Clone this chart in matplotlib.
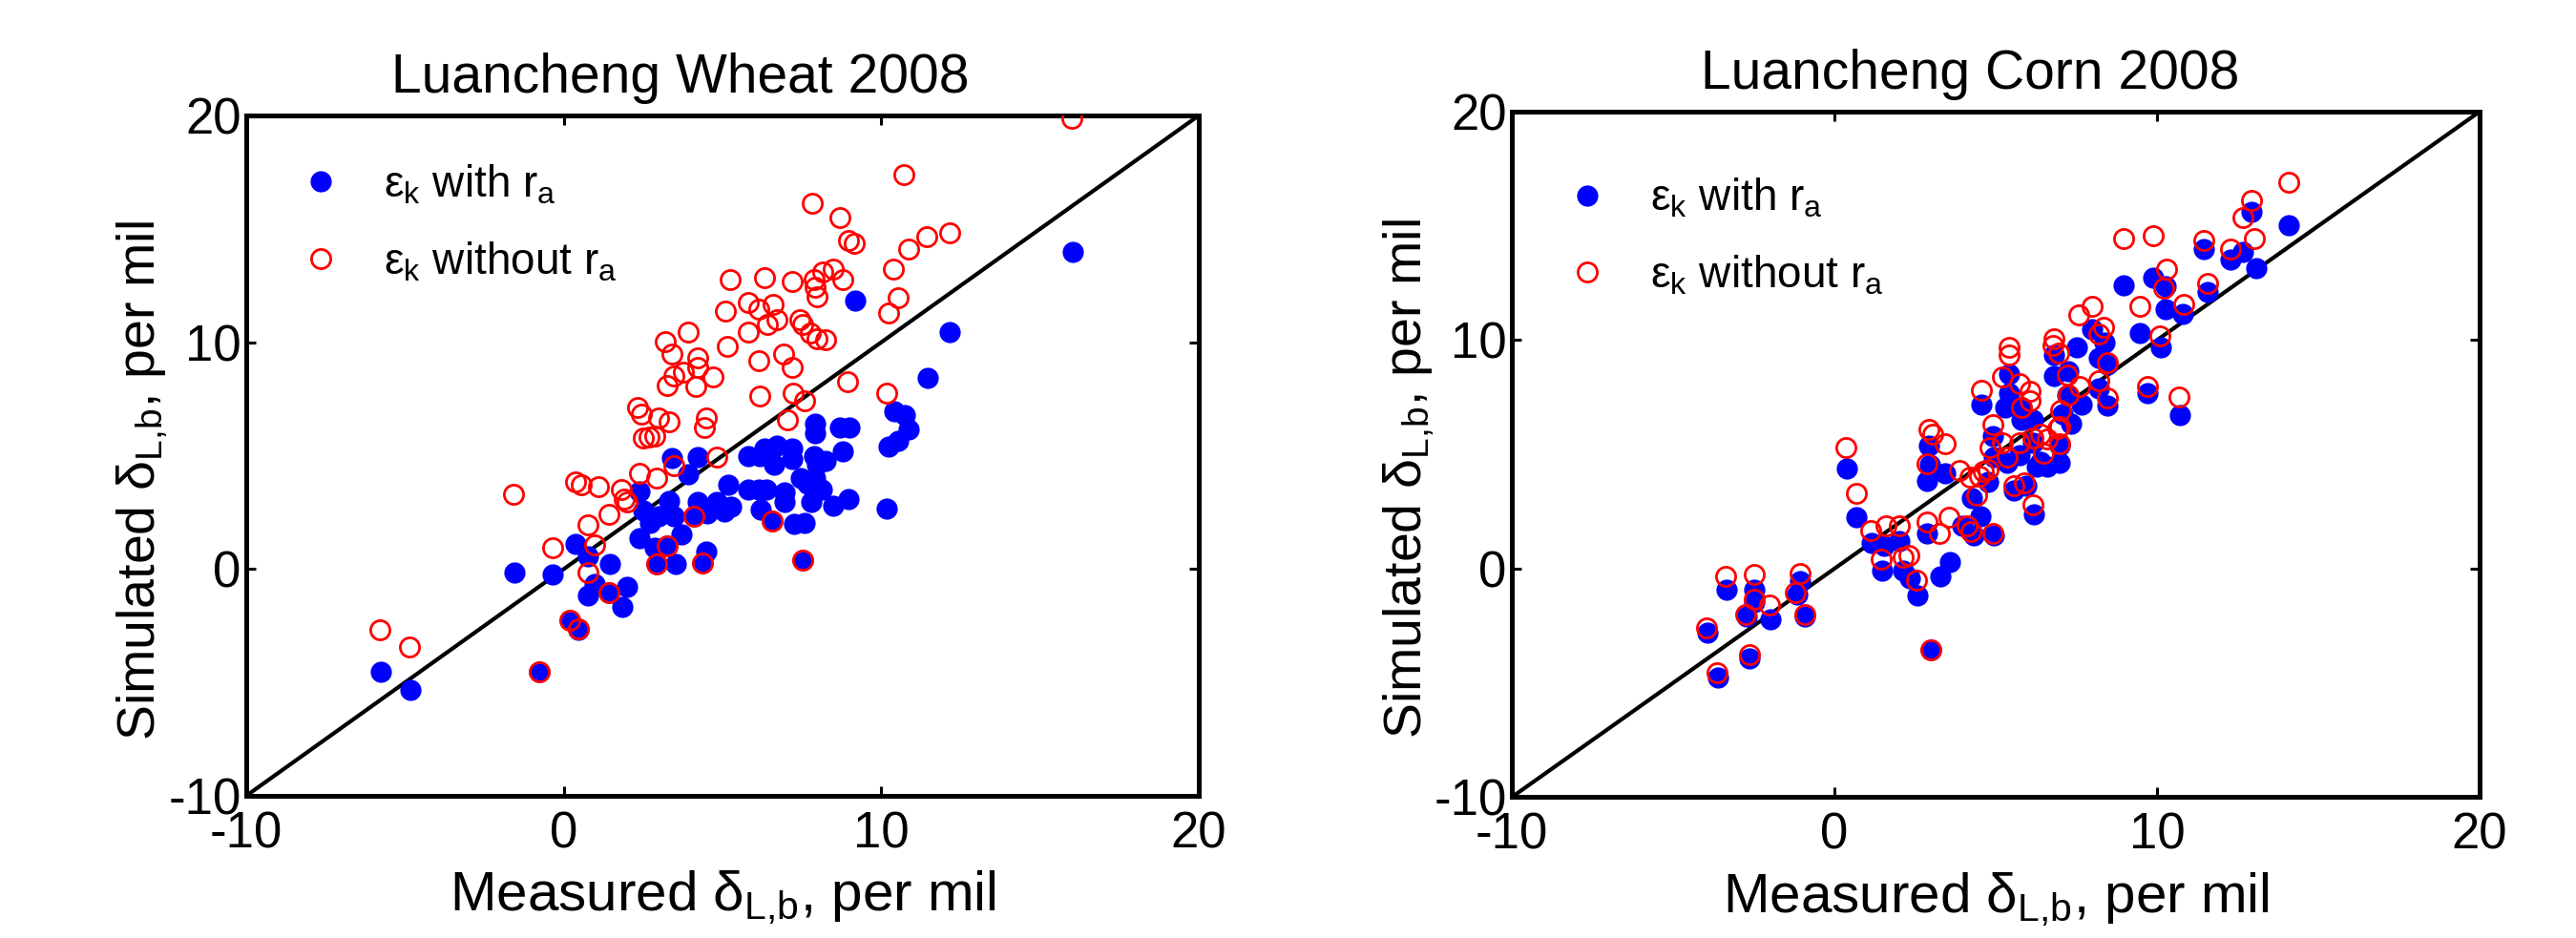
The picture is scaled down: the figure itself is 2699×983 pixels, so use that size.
import numpy as np
import matplotlib
matplotlib.use("Agg")
import matplotlib.pyplot as plt

plt.rcParams['font.family'] = ['Liberation Sans', 'DejaVu Sans']
plt.rcParams['mathtext.fontset'] = 'custom'
plt.rcParams['mathtext.rm'] = 'Liberation Sans'
plt.rcParams['mathtext.it'] = 'Liberation Sans:italic'
plt.rcParams['mathtext.default'] = 'regular'
plt.rcParams['axes.unicode_minus'] = False

# Luancheng wheat 2008: (measured, simulated), per mil
wheat_with_ra = [
    (-5.75, -4.55), (-4.84, -5.31), (-0.78, -4.55), (-1.56, -0.17), (-0.34, -0.25),
    (0.19, -2.24), (0.46, -2.66), (0.36, 1.12), (0.77, 0.56), (0.97, -0.66),
    (0.77, -1.16), (1.44, 0.24), (1.41, -1.05), (2.0, -0.77), (1.84, -1.65),
    (2.38, 3.43), (2.49, 2.59), (2.38, 1.37), (2.72, 2.03), (2.98, 2.31),
    (3.32, 2.98), (3.48, 2.31), (2.85, 0.95), (3.25, 1.02), (3.72, 1.54),
    (2.92, 0.21), (3.52, 0.24), (4.50, 0.77), (4.37, 0.28), (3.39, 4.90),
    (4.23, 4.94), (3.92, 4.20), (4.23, 2.94), (4.83, 2.94), (5.11, 2.70),
    (5.27, 2.76), (5.06, 2.52), (4.53, 2.45), (4.10, 2.31), (5.17, 3.71),
    (5.81, 3.50), (6.14, 3.50), (6.37, 3.50), (6.21, 2.62), (6.57, 2.13),
    (6.95, 2.94), (6.95, 3.36), (7.46, 4.03), (7.91, 4.01), (8.12, 3.50),
    (7.78, 2.97), (7.66, 3.75), (8.49, 2.80), (8.97, 3.08), (7.26, 1.99),
    (7.59, 2.03), (7.51, 0.39), (10.17, 2.66), (5.81, 4.97), (6.18, 4.97),
    (6.32, 5.31), (6.61, 4.62), (6.72, 5.45), (7.18, 5.31), (7.19, 4.85),
    (7.89, 4.99), (8.23, 4.76), (7.96, 4.62), (7.92, 6.43), (7.92, 5.97),
    (8.70, 6.22), (8.99, 6.22), (8.80, 5.20), (10.42, 6.95), (10.75, 6.78),
    (10.87, 6.15), (10.54, 5.66), (10.24, 5.41), (9.17, 11.82), (11.45, 8.43),
    (12.16, 10.45), (16.02, 13.99),
]
wheat_without_ra = [
    (-5.78, -2.70), (-4.85, -3.43), (-0.78, -4.55), (0.19, -2.24), (0.46, -2.63),
    (1.41, -1.05), (0.77, -0.17), (-0.35, 0.95), (0.97, 1.05), (2.92, 0.21),
    (3.25, 1.02), (4.37, 0.28), (7.51, 0.39), (0.77, 1.93), (1.41, 2.42),
    (4.10, 2.31), (6.57, 2.13), (-1.59, 3.29), (0.36, 3.85), (0.54, 3.73),
    (1.10, 3.64), (1.80, 3.50), (1.91, 3.08), (2.0, 2.94), (2.38, 4.22),
    (2.92, 4.03), (3.48, 4.57), (4.83, 4.94), (2.31, 7.13), (2.45, 6.85),
    (2.98, 6.67), (3.32, 6.50), (4.50, 6.67), (4.42, 6.22), (2.51, 5.78),
    (2.67, 5.83), (2.85, 5.87), (7.04, 6.57), (7.58, 7.41), (7.22, 7.76),
    (6.17, 7.65), (8.94, 8.25), (10.17, 7.76), (3.19, 10.03), (3.39, 9.48),
    (3.92, 10.46), (4.23, 9.30), (4.23, 8.88), (3.76, 8.67), (3.45, 8.50),
    (3.25, 8.11), (4.17, 8.04), (4.69, 8.46), (5.16, 9.83), (6.14, 9.20),
    (6.91, 9.48), (7.18, 8.91), (5.09, 11.37), (5.81, 11.75), (6.14, 11.47),
    (6.58, 11.68), (6.72, 11.0), (6.41, 10.77), (5.81, 10.46), (7.42, 10.98),
    (7.51, 10.77), (7.76, 10.42), (7.96, 10.14), (8.25, 10.10), (5.23, 12.76),
    (6.32, 12.84), (7.18, 12.66), (7.89, 12.76), (8.16, 13.12), (8.49, 13.22),
    (8.80, 12.76), (7.92, 12.44), (7.98, 12.0), (7.82, 16.13), (8.70, 15.48),
    (8.96, 14.48), (9.14, 14.38), (10.38, 13.22), (10.54, 11.96), (10.24, 11.29),
    (10.85, 14.10), (11.42, 14.66), (12.15, 14.83), (10.71, 17.41), (16.0, 19.86),
]

# Luancheng corn 2008
corn_with_ra = [
    (-3.94, -2.79), (-3.61, -4.75), (-3.34, -0.91), (-2.64, -3.91), (-2.72, -2.09),
    (-2.48, -0.91), (-2.48, -1.47), (-1.99, -2.23), (-1.06, -0.56), (-1.16, -1.12),
    (-0.92, -2.09), (0.38, 4.37), (0.69, 2.23), (1.15, 1.12), (1.55, 0.98),
    (2.01, 1.19), (1.48, -0.07), (2.14, -0.07), (2.34, -0.42), (2.56, -1.19),
    (3.29, -0.35), (3.59, 0.28), (3.0, -3.56), (2.87, 1.54), (2.87, 3.84),
    (2.93, 5.38), (3.43, 4.19), (2.95, 4.55), (4.54, 7.19), (4.91, 5.80),
    (4.25, 3.07), (4.52, 2.30), (3.96, 1.89), (4.32, 1.47), (4.94, 1.47),
    (6.17, 2.37), (5.57, 3.42), (5.94, 3.63), (5.28, 7.05), (4.76, 3.78),
    (4.95, 4.90), (5.35, 4.62), (5.74, 4.97), (6.14, 5.52), (6.40, 4.69),
    (6.60, 4.48), (6.99, 4.62), (6.99, 5.38), (6.27, 4.48), (5.41, 8.51),
    (5.41, 7.68), (5.81, 7.05), (5.81, 6.50), (6.14, 6.50), (7.33, 6.36),
    (7.06, 6.77), (7.65, 7.19), (7.23, 7.61), (7.26, 8.65), (6.80, 8.44),
    (6.80, 9.35), (7.52, 9.69), (7.98, 10.46), (8.38, 9.90), (8.18, 9.21),
    (8.45, 8.93), (8.18, 7.89), (8.45, 7.12), (8.95, 12.41), (9.47, 10.32),
    (10.12, 9.69), (9.70, 7.68), (10.71, 6.70), (9.89, 12.75), (10.26, 12.34),
    (10.26, 11.36), (10.79, 11.15), (11.45, 14.0), (11.58, 12.09), (12.29, 13.52),
    (12.66, 13.87), (12.92, 15.6), (13.08, 13.17), (14.08, 15.05),
]
corn_without_ra = [
    (-3.96, -2.58), (-3.63, -4.54), (-3.37, -0.32), (-2.48, -0.24), (-2.64, -3.77),
    (-2.75, -2.0), (-2.48, -1.33), (-2.02, -1.61), (-1.06, -0.21), (-1.20, -1.05),
    (-0.92, -2.0), (0.36, 5.31), (0.69, 3.28), (1.12, 1.68), (1.59, 1.86),
    (2.01, 1.86), (1.45, 0.42), (2.14, 0.49), (2.30, 0.56), (2.54, -0.49),
    (3.0, -3.56), (2.87, 2.03), (3.26, 1.54), (3.55, 2.23), (4.12, 1.89),
    (4.23, 1.61), (4.91, 1.54), (2.87, 4.57), (2.93, 6.08), (3.04, 5.87),
    (3.43, 5.47), (3.88, 4.29), (4.19, 4.01), (4.41, 3.21), (4.54, 7.82),
    (4.91, 6.31), (5.55, 3.63), (5.90, 3.77), (6.14, 2.79), (4.49, 4.06),
    (4.62, 4.27), (4.76, 4.34), (4.82, 5.31), (5.22, 5.52), (5.35, 4.90),
    (5.74, 5.49), (6.14, 5.73), (6.40, 5.87), (6.60, 5.66), (6.47, 5.03),
    (6.99, 5.45), (6.93, 6.15), (5.41, 9.69), (5.41, 9.35), (5.22, 8.37),
    (5.74, 8.09), (6.07, 7.75), (6.05, 7.36), (5.81, 7.05), (6.80, 10.04),
    (6.77, 9.76), (6.94, 9.44), (7.56, 11.11), (7.98, 11.46), (8.35, 10.56),
    (8.18, 10.25), (8.45, 9.0), (8.18, 8.21), (8.45, 7.47), (7.59, 7.98),
    (7.22, 8.48), (7.26, 7.61), (7.02, 6.94), (6.99, 6.22), (8.95, 14.45),
    (9.89, 14.56), (9.46, 11.47), (10.09, 10.18), (9.70, 7.96), (10.69, 7.50),
    (10.29, 13.10), (10.22, 12.29), (10.82, 11.57), (11.45, 14.35), (11.57, 12.48),
    (12.27, 14.0), (12.66, 15.35), (12.92, 16.12), (13.03, 14.45), (14.07, 16.9),
]

titles = ['Luancheng Wheat 2008', 'Luancheng Corn 2008']
lims = [-10, 20]
ticks = [-10, 0, 10, 20]
legend_top = [0.930, 0.905]
title_x = [0.456, 0.474]
ylabel_x = [-0.080, -0.078]

fig = plt.figure(figsize=(26.99, 9.83), dpi=100)
ax1 = fig.add_axes([0.0956, 0.1516, 0.3698, 0.7253])
ax2 = fig.add_axes([0.5869, 0.1502, 0.3757, 0.7308])

panels = [(ax1, wheat_with_ra, wheat_without_ra), (ax2, corn_with_ra, corn_without_ra)]
for i, (ax, with_ra, without_ra) in enumerate(panels):
    a = np.array(with_ra)
    b = np.array(without_ra)
    ax.plot(lims, lims, color='black', lw=3.0, zorder=1)
    ax.plot(a[:, 0], a[:, 1], 'o', color='#0000ff', ms=16, mec='#0000ff', mew=0,
            label=r'ε$_k$ with r$_a$', zorder=2)
    ax.plot(b[:, 0], b[:, 1], 'o', mfc='none', mec='#ff0000', ms=14.5, mew=2.0,
            label=r'ε$_k$ without r$_a$', zorder=3)
    ax.set_xlim(lims)
    ax.set_ylim(lims)
    ax.set_xticks(ticks)
    ax.set_yticks(ticks)
    ax.tick_params(direction='in', top=True, right=True, length=7, width=2.2,
                   labelsize=38)
    ax.tick_params(axis='x', pad=11)
    ax.tick_params(axis='y', pad=4)
    for s in ax.spines.values():
        s.set_linewidth(3.6)
    ax.set_title(titles[i], fontsize=41, pad=17, x=title_x[i])
    ax.set_xlabel(r'Measured δ$_{L{,}b}$, per mil', fontsize=42)
    ax.set_ylabel(r'Simulated δ$_{L{,}b}$, per mil', fontsize=40)
    ax.xaxis.set_label_coords(0.5, -0.107)
    ax.yaxis.set_label_coords(ylabel_x[i], 0.464)
    ax.legend(loc='upper left', bbox_to_anchor=(0.055, legend_top[i]), frameon=False,
              fontsize=33, numpoints=1, handlelength=1.0, handletextpad=0.94,
              borderpad=0, borderaxespad=0, labelspacing=0.77)

fig.savefig('out.png', dpi=100)
